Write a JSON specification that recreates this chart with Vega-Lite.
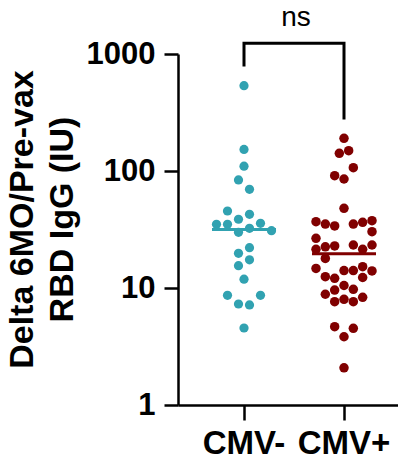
{
  "$schema": "https://vega.github.io/schema/vega-lite/v6.json",
  "width": 220,
  "height": 351,
  "autosize": {"type": "none"},
  "padding": {"left": 178, "top": 54, "right": 0, "bottom": 55},
  "config": {
    "view": {"stroke": null},
    "font": "Liberation Sans",
    "axis": {"grid": false, "domainColor": "black", "tickColor": "black", "labelColor": "black", "titleColor": "black"}
  },
  "datasets": {
    "points": [
      {"group": "CMV-", "value": 536, "lane": 0},
      {"group": "CMV-", "value": 153, "lane": 0},
      {"group": "CMV-", "value": 110, "lane": 0},
      {"group": "CMV-", "value": 83.8, "lane": -0.5},
      {"group": "CMV-", "value": 69.8, "lane": 0.5},
      {"group": "CMV-", "value": 45.5, "lane": -1.5},
      {"group": "CMV-", "value": 42.6, "lane": 0.5},
      {"group": "CMV-", "value": 38.7, "lane": -0.5},
      {"group": "CMV-", "value": 35.0, "lane": -2.5},
      {"group": "CMV-", "value": 35.0, "lane": -1.5},
      {"group": "CMV-", "value": 35.7, "lane": 1.5},
      {"group": "CMV-", "value": 32.4, "lane": 0.5},
      {"group": "CMV-", "value": 30.9, "lane": 2.5},
      {"group": "CMV-", "value": 29.9, "lane": -0.5},
      {"group": "CMV-", "value": 22.1, "lane": 0.5},
      {"group": "CMV-", "value": 19.8, "lane": -0.5},
      {"group": "CMV-", "value": 17.4, "lane": 0.5},
      {"group": "CMV-", "value": 15.5, "lane": -0.5},
      {"group": "CMV-", "value": 11.9, "lane": 0},
      {"group": "CMV-", "value": 8.66, "lane": -1.5},
      {"group": "CMV-", "value": 8.66, "lane": 1.5},
      {"group": "CMV-", "value": 7.3, "lane": -0.5},
      {"group": "CMV-", "value": 7.16, "lane": 0.5},
      {"group": "CMV-", "value": 4.55, "lane": 0},
      {"group": "CMV+", "value": 190.4, "lane": 0},
      {"group": "CMV+", "value": 149.1, "lane": 0.5},
      {"group": "CMV+", "value": 141.7, "lane": -0.5},
      {"group": "CMV+", "value": 106.7, "lane": 1},
      {"group": "CMV+", "value": 91.2, "lane": -1},
      {"group": "CMV+", "value": 85.4, "lane": 0},
      {"group": "CMV+", "value": 48.0, "lane": 0},
      {"group": "CMV+", "value": 36.9, "lane": -3},
      {"group": "CMV+", "value": 35.2, "lane": -2},
      {"group": "CMV+", "value": 33.9, "lane": -1},
      {"group": "CMV+", "value": 35.2, "lane": 1},
      {"group": "CMV+", "value": 36.4, "lane": 2},
      {"group": "CMV+", "value": 37.6, "lane": 3},
      {"group": "CMV+", "value": 30.3, "lane": 3},
      {"group": "CMV+", "value": 26.6, "lane": -3},
      {"group": "CMV+", "value": 21.4, "lane": -3},
      {"group": "CMV+", "value": 22.5, "lane": -2},
      {"group": "CMV+", "value": 22.9, "lane": -1},
      {"group": "CMV+", "value": 23.3, "lane": 1},
      {"group": "CMV+", "value": 21.4, "lane": 2},
      {"group": "CMV+", "value": 23.3, "lane": 3},
      {"group": "CMV+", "value": 17.9, "lane": -2},
      {"group": "CMV+", "value": 14.7, "lane": -3},
      {"group": "CMV+", "value": 12.5, "lane": -2},
      {"group": "CMV+", "value": 12.1, "lane": -1},
      {"group": "CMV+", "value": 14.1, "lane": 0},
      {"group": "CMV+", "value": 14.1, "lane": 1},
      {"group": "CMV+", "value": 15.2, "lane": 2},
      {"group": "CMV+", "value": 14.0, "lane": 3},
      {"group": "CMV+", "value": 12.3, "lane": 2},
      {"group": "CMV+", "value": 10.5, "lane": 0},
      {"group": "CMV+", "value": 9.61, "lane": -1},
      {"group": "CMV+", "value": 9.74, "lane": 1},
      {"group": "CMV+", "value": 8.84, "lane": -2},
      {"group": "CMV+", "value": 7.64, "lane": -1},
      {"group": "CMV+", "value": 8.01, "lane": 0},
      {"group": "CMV+", "value": 7.64, "lane": 1},
      {"group": "CMV+", "value": 8.33, "lane": 2},
      {"group": "CMV+", "value": 4.67, "lane": -1},
      {"group": "CMV+", "value": 4.52, "lane": 1},
      {"group": "CMV+", "value": 3.83, "lane": 0},
      {"group": "CMV+", "value": 2.08, "lane": 0}
    ],
    "bracket": [
      {"group": "CMV-", "value": 805, "step": 1},
      {"group": "CMV-", "value": 1234, "step": 2},
      {"group": "CMV+", "value": 1234, "step": 3},
      {"group": "CMV+", "value": 284, "step": 4}
    ],
    "annotation": [
      {"group": "CMV-", "value": 1735, "text": "ns"}
    ]
  },
  "encoding": {
    "x": {
      "field": "group",
      "type": "nominal",
      "sort": ["CMV-", "CMV+"],
      "scale": {"type": "band", "domain": ["CMV-", "CMV+"], "paddingInner": 0, "paddingOuter": 0.1, "align": 0.8},
      "axis": {
        "title": null,
        "labelAngle": 0,
        "labelFontSize": 33,
        "labelFontWeight": "bold",
        "labelPadding": 7,
        "labelDx": 3,
        "tickSize": 15,
        "tickWidth": 2.5,
        "domainWidth": 2.5
      }
    },
    "y": {
      "field": "value",
      "type": "quantitative",
      "scale": {"type": "log", "domain": [1, 1000], "nice": false},
      "axis": {
        "values": [1, 10, 100, 1000],
        "format": "d",
        "title": ["Delta 6MO/Pre-vax", "RBD IgG (IU)"],
        "titleFontSize": 34,
        "titleFontWeight": "bold",
        "titleLineHeight": 40,
        "titlePadding": 7,
        "titleY": 165,
        "labelFontSize": 31,
        "labelFontWeight": "bold",
        "labelPadding": 9,
        "tickSize": 14,
        "tickWidth": 2.5,
        "domainWidth": 2.5
      }
    }
  },
  "layer": [
    {
      "data": {"name": "points"},
      "transform": [{"filter": "datum.group === 'CMV-'"}],
      "mark": {"type": "circle", "size": 85, "opacity": 1, "color": "#31A2B1"},
      "encoding": {
        "xOffset": {"field": "lane", "type": "quantitative", "scale": {"domain": [-5, 5], "range": [-5, 105]}}
      }
    },
    {
      "data": {"name": "points"},
      "transform": [{"filter": "datum.group === 'CMV+'"}],
      "mark": {"type": "circle", "size": 90, "opacity": 1, "color": "#800000"},
      "encoding": {
        "xOffset": {"field": "lane", "type": "quantitative", "scale": {"domain": [-5, 5], "range": [3.33, 96.67]}}
      }
    },
    {
      "data": {"name": "points"},
      "transform": [{"aggregate": [{"op": "median", "field": "value", "as": "value"}], "groupby": ["group"]}],
      "mark": {"type": "tick", "thickness": 3, "size": 64, "opacity": 1},
      "encoding": {
        "color": {"field": "group", "type": "nominal", "scale": {"domain": ["CMV-", "CMV+"], "range": ["#31A2B1", "#800000"]}, "legend": null}
      }
    },
    {
      "data": {"name": "bracket"},
      "mark": {"type": "line", "color": "black", "strokeWidth": 3, "strokeCap": "square"},
      "encoding": {"order": {"field": "step", "type": "quantitative"}}
    },
    {
      "data": {"name": "annotation"},
      "mark": {"type": "text", "fontSize": 28, "dx": 52, "align": "center", "baseline": "alphabetic", "color": "black"},
      "encoding": {"text": {"field": "text"}}
    }
  ],
  "resolve": {"scale": {"xOffset": "independent"}}
}
